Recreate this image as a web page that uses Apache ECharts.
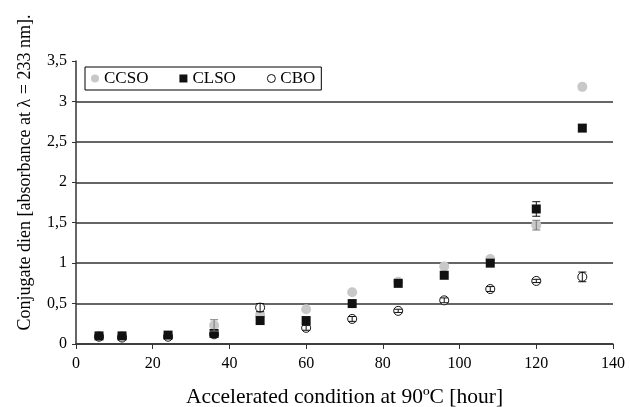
<!DOCTYPE html>
<html>
	<head>
		<title>Conjugate dien</title>
		<meta charset="UTF-8">
		<script src="https://cdn.jsdelivr.net/npm/echarts@6/dist/echarts.min.js" type="text/javascript"></script>
		<style>
			html, body { margin: 0; padding: 0; background: #fff; }
		</style>
	</head>
	<body>
		<div id="chart" style="width:630px;height:407px;"></div>
		<script type="text/javascript">
			// hours of accelerated storage
			var hours = [6, 12, 24, 36, 48, 60, 72, 84, 96, 108, 120, 132];
			var ccso = [0.10, 0.10, 0.10, 0.23, 0.36, 0.43, 0.64, 0.77, 0.96, 1.05, 1.47, 3.18];
			var clso = [0.10, 0.10, 0.11, 0.13, 0.29, 0.29, 0.50, 0.75, 0.85, 1.00, 1.67, 2.67];
			var cbo = [0.09, 0.08, 0.09, 0.12, 0.45, 0.20, 0.31, 0.41, 0.54, 0.68, 0.78, 0.83];
			// error bars (half width)
			var ccsoErr = [0, 0, 0, 0.07, 0, 0, 0, 0, 0, 0, 0.06, 0];
			var clsoErr = [0, 0, 0, 0, 0, 0, 0, 0, 0, 0, 0.09, 0];
			var cboErr = [0.02, 0.02, 0.02, 0, 0.05, 0.03, 0.03, 0.02, 0.03, 0.03, 0.02, 0.06];
			var xTicks = [0, 20, 40, 60, 80, 100, 120, 140];

			var font = 'Liberation Serif';

			function pairs(ys) {
				return hours.map(function (h, i) { return [h, ys[i]]; });
			}

			function errData(ys, errs) {
				var out = [];
				for (var i = 0; i < hours.length; i++) {
					if (errs[i] > 0) out.push([hours[i], ys[i] - errs[i], ys[i] + errs[i]]);
				}
				return out;
			}

			function errSeries(name, ys, errs, color) {
				return {
					name: name,
					type: 'custom',
					z: 5,
					data: errData(ys, errs),
					renderItem: function (params, api) {
						var lo = api.coord([api.value(0), api.value(1)]);
						var hi = api.coord([api.value(0), api.value(2)]);
						var w = 4;
						var st = { stroke: color, lineWidth: 1 };
						return {
							type: 'group',
							children: [
								{ type: 'line', shape: { x1: lo[0], y1: lo[1], x2: hi[0], y2: hi[1] }, style: st },
								{ type: 'line', shape: { x1: lo[0] - w, y1: lo[1], x2: lo[0] + w, y2: lo[1] }, style: st },
								{ type: 'line', shape: { x1: hi[0] - w, y1: hi[1], x2: hi[0] + w, y2: hi[1] }, style: st }
							]
						};
					}
				};
			}

			var gridColors = ['#333', '#333', '#333', '#333', '#333', '#333', '#333', 'rgba(0,0,0,0)'];

			var option = {
				animation: false,
				textStyle: { fontFamily: font, color: '#000' },
				grid: { left: 76, right: 17, top: 61, bottom: 63, containLabel: false, outerBoundsMode: 'none' },
				legend: {
					left: 85,
					top: 67,
					data: [
						{ name: 'CCSO' },
						{ name: 'CLSO' },
						{ name: 'CBO', itemStyle: { borderWidth: 1 } }
					],
					itemWidth: 8,
					itemHeight: 8,
					itemGap: 31,
					padding: [3, 6, 3, 6],
					borderColor: '#000',
					borderWidth: 1,
					backgroundColor: '#fff',
					textStyle: { fontFamily: font, fontSize: 17, color: '#000' }
				},
				xAxis: {
					type: 'value',
					min: xTicks[0],
					max: xTicks[xTicks.length - 1],
					interval: 20,
					name: 'Accelerated condition at 90ºC [hour]',
					nameLocation: 'middle',
					nameGap: 42,
					nameTextStyle: { fontFamily: font, fontSize: 21.5, color: '#000' },
					axisLine: { lineStyle: { color: '#333', width: 1.5 } },
					axisTick: { show: true, length: 5, lineStyle: { color: '#333' } },
					axisLabel: { fontFamily: font, fontSize: 16, color: '#000', margin: 12 },
					splitLine: { show: false }
				},
				yAxis: {
					type: 'value',
					min: 0,
					max: 3.5,
					interval: 0.5,
					name: 'Conjugate dien [absorbance at λ = 233 nm].',
					nameLocation: 'middle',
					nameRotate: 90,
					nameGap: 42,
					nameTextStyle: { fontFamily: font, fontSize: 18, color: '#000', padding: [0, 0, 0, 60] },
					axisLine: { show: true, lineStyle: { color: '#333', width: 1.5 } },
					axisTick: { show: true, length: 4, lineStyle: { color: '#333' } },
					axisLabel: {
						fontFamily: font, fontSize: 16, color: '#000', margin: 9,
						formatter: function (v) { return String(v).replace('.', ','); }
					},
					splitLine: { show: true, lineStyle: { color: gridColors, width: 1.5 } }
				},
				series: [
					{
						name: 'CCSO',
						type: 'scatter',
						z: 2,
						symbol: 'circle',
						symbolSize: 10,
						itemStyle: { color: '#c8c8c8', opacity: 1 },
						data: pairs(ccso)
					},
					{
						name: 'CBO',
						type: 'scatter',
						z: 3,
						symbol: 'circle',
						symbolSize: 9,
						itemStyle: { color: '#fff', borderColor: '#111', borderWidth: 1, opacity: 1 },
						data: pairs(cbo)
					},
					{
						name: 'CLSO',
						type: 'scatter',
						z: 4,
						symbol: 'rect',
						symbolSize: 9,
						itemStyle: { color: '#111', opacity: 1 },
						data: pairs(clso)
					},
					errSeries('ccsoErr', ccso, ccsoErr, '#777'),
					errSeries('cboErr', cbo, cboErr, '#111'),
					errSeries('clsoErr', clso, clsoErr, '#111')
				]
			};

			var chart = echarts.init(document.getElementById('chart'));
			chart.setOption(option);
		</script>
	</body>
</html>
